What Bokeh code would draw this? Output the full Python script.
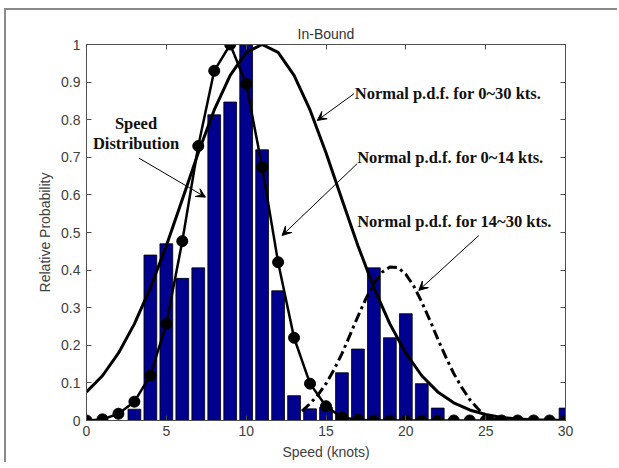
from bokeh.plotting import figure
from bokeh.models import (LinearAxis, FixedTicker, Label, Arrow, VeeHead, Range1d,
                          NumeralTickFormatter)
from bokeh.embed import file_html
from bokeh.resources import INLINE

# ---------------- data ----------------
speed_bins = list(range(0, 31))
speed_dist = [0.0, 0.0, 0.0, 0.03, 0.44, 0.47, 0.378, 0.406, 0.813, 0.847,
              1.0, 0.72, 0.345, 0.066, 0.031, 0.035, 0.127, 0.19, 0.406, 0.22,
              0.284, 0.098, 0.033, 0.0, 0.0, 0.0, 0.0, 0.0, 0.0, 0.0, 0.033]

pdf_all_x = list(range(0, 31))
pdf_all_y = [0.076, 0.119, 0.179, 0.257, 0.353, 0.465, 0.588, 0.712, 0.826, 0.918,
             0.979, 1.0, 0.979, 0.918, 0.826, 0.712, 0.588, 0.465, 0.353, 0.257,
             0.179, 0.119, 0.076, 0.047, 0.028, 0.016, 0.008, 0.004, 0.002, 0.001, 0.0]

pdf_low_x = list(range(0, 31))
pdf_low_y = [0.0, 0.003, 0.018, 0.05, 0.12, 0.257, 0.477, 0.73, 0.93, 1.0,
             0.895, 0.674, 0.421, 0.22, 0.098, 0.038, 0.008, 0.002, 0.0, 0.0,
             0.0, 0.0, 0.0, 0.0, 0.0, 0.0, 0.0, 0.0, 0.0, 0.0, 0.0]

pdf_high_x = [13.5, 14, 14.5, 15, 15.5, 16, 16.5, 17, 17.5, 18, 18.5, 19, 19.5,
              20, 20.5, 21, 21.5, 22, 22.5, 23, 23.5, 24, 24.5, 25, 25.5, 26]
pdf_high_y = [0.025, 0.045, 0.068, 0.098, 0.135, 0.178, 0.227, 0.277, 0.324, 0.365,
              0.394, 0.408, 0.407, 0.389, 0.357, 0.315, 0.267, 0.217, 0.169, 0.125,
              0.088, 0.056, 0.032, 0.012, 0.004, 0.0]

x_ticks = [0, 5, 10, 15, 20, 25, 30]
y_ticks = [0, 0.1, 0.2, 0.3, 0.4, 0.5, 0.6, 0.7, 0.8, 0.9, 1]

title_text = "In-Bound"
x_label = "Speed (knots)"
y_label = "Relative Probability"

# ---------------- figure ----------------
AX = "#505050"
p = figure(frame_width=479, frame_height=376,
           x_range=Range1d(0, 30), y_range=Range1d(0, 1),
           output_backend="svg", toolbar_location=None,
           min_border_left=80, min_border_right=52, min_border_top=34, min_border_bottom=40,
           title=title_text,
           styles={"margin-left": "4px", "margin-top": "8px",
                   "border-left": "2px solid #8a8a8a",
                   "border-top": "2px solid #8a8a8a"})
p.background_fill_color = "white"
p.border_fill_color = "white"
p.outline_line_color = AX
p.grid.visible = False

p.title.align = "center"
p.title.text_font = "Liberation Sans"
p.title.text_font_size = "14px"
p.title.text_font_style = "normal"
p.title.text_color = "#333333"
p.title.standoff = 5


def style_axis(ax, show_labels=True):
    ax.axis_line_color = AX
    ax.major_tick_line_color = AX
    ax.major_tick_in = 5
    ax.major_tick_out = 0
    ax.minor_tick_line_color = None
    ax.major_label_text_font = "Liberation Sans"
    ax.major_label_text_font_size = "14px"
    ax.major_label_text_color = "#404040" if show_labels else None
    ax.axis_label_text_font = "Liberation Sans"
    ax.axis_label_text_font_size = "14px"
    ax.axis_label_text_font_style = "normal"
    ax.axis_label_text_color = "#404040"


p.xaxis.ticker = FixedTicker(ticks=x_ticks)
p.yaxis.ticker = FixedTicker(ticks=y_ticks)
p.yaxis.formatter = NumeralTickFormatter(format="0.[0]")
p.xaxis.axis_label = x_label
p.yaxis.axis_label = y_label
style_axis(p.xaxis[0])
style_axis(p.yaxis[0])
p.xaxis.major_label_standoff = 5
p.xaxis.axis_label_standoff = 5
p.yaxis.major_label_standoff = 6
p.yaxis.axis_label_standoff = 5

top_ax = LinearAxis(ticker=FixedTicker(ticks=x_ticks))
style_axis(top_ax, show_labels=False)
top_ax.major_label_standoff = 0
p.add_layout(top_ax, "above")
right_ax = LinearAxis(ticker=FixedTicker(ticks=y_ticks))
style_axis(right_ax, show_labels=False)
right_ax.major_label_standoff = 0
p.add_layout(right_ax, "right")

# bars
p.vbar(x=speed_bins, top=speed_dist, width=0.8, bottom=0,
       fill_color="#00008F", line_color="black", line_width=0.8)

# normal pdf 0~30 (solid)
p.line(pdf_all_x, pdf_all_y, line_color="black", line_width=3)

# normal pdf 0~14 (line with circles)
p.line(pdf_low_x, pdf_low_y, line_color="black", line_width=2.5)
p.scatter(pdf_low_x, pdf_low_y, size=11, marker="circle",
          fill_color="black", line_color="black")

# normal pdf 14~30 (dash-dot)
p.line(pdf_high_x, pdf_high_y, line_color="black", line_width=3, line_dash="10 4 3 4")

# annotations
FONT = dict(text_font="Liberation Serif", text_font_style="bold",
            text_font_size="16.5px", text_color="#111111", text_baseline="middle")

p.add_layout(Label(x=3.1, y=0.791, text="Speed", text_align="center", **FONT))
p.add_layout(Label(x=3.1, y=0.737, text="Distribution", text_align="center", **FONT))
p.add_layout(Label(x=16.8, y=0.869, text="Normal p.d.f. for  0~30 kts.", text_align="left", **FONT))
p.add_layout(Label(x=16.95, y=0.699, text="Normal p.d.f. for  0~14 kts.", text_align="left", **FONT))
p.add_layout(Label(x=16.95, y=0.529, text="Normal p.d.f. for 14~30 kts.", text_align="left", **FONT))


def arrow(x0, y0, x1, y1):
    p.add_layout(Arrow(x_start=x0, y_start=y0, x_end=x1, y_end=y1,
                       line_width=1, line_color="black",
                       end=VeeHead(size=9, line_width=1, line_color="black", fill_color="black")))


arrow(3.28, 0.698, 7.45, 0.594)
arrow(16.75, 0.869, 14.45, 0.798)
arrow(16.95, 0.683, 12.25, 0.492)
arrow(24.57, 0.492, 20.81, 0.346)

open("out.html", "w").write(file_html(p, INLINE))
